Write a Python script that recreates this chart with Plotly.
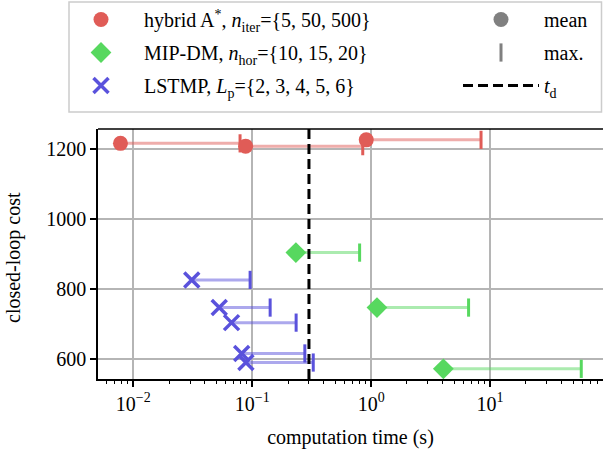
import plotly.graph_objects as go

# ---- data ----
hybrid_mean_t = [0.0078, 0.088, 0.91]
hybrid_max_t = [0.079, 0.85, 8.4]
hybrid_cost = [1216, 1208, 1226]

mip_mean_t = [0.233, 1.12, 4.05]
mip_max_t = [0.80, 6.6, 58.5]
mip_cost = [904, 747, 572]

lstmp_mean_t = [0.031, 0.0528, 0.067, 0.0815, 0.0885]
lstmp_max_t = [0.096, 0.1415, 0.234, 0.277, 0.326]
lstmp_cost = [826, 747, 704, 616, 590]

t_d = 0.3
y_range = [543, 1257]
x_range_log = [-2.297, 1.95]

x_tickvals = [0.01, 0.1, 1, 10]
x_ticktext = ["10<sup>−2</sup>", "10<sup>−1</sup>", "10<sup>0</sup>", "10<sup>1</sup>"]
y_tickvals = [600, 800, 1000, 1200]

FONT = "Liberation Serif"
RED, RED_L = "#e05c57", "rgba(224,92,87,0.5)"
GREEN, GREEN_L = "#57d85f", "rgba(87,216,95,0.5)"
BLUE, BLUE_L = "#5a52dc", "rgba(90,82,220,0.5)"
GREY = "#808080"

series = [
    ("hybrid A<sup>*</sup>, <i>n</i><sub>iter</sub>={5, 50, 500}", hybrid_mean_t, hybrid_max_t, hybrid_cost,
     RED, RED_L, dict(symbol="circle", size=15)),
    ("MIP-DM, <i>n</i><sub>hor</sub>={10, 15, 20}", mip_mean_t, mip_max_t, mip_cost,
     GREEN, GREEN_L, dict(symbol="diamond", size=16)),
    ("LSTMP, <i>L</i><sub>p</sub>={2, 3, 4, 5, 6}", lstmp_mean_t, lstmp_max_t, lstmp_cost,
     BLUE, BLUE_L, dict(symbol="x-thin", size=15, line=dict(width=3.5))),
]

fig = go.Figure()

# mean-to-max lines
for name, mt, xt, c, col, coll, mk in series:
    for a, b, cc in zip(mt, xt, c):
        fig.add_trace(go.Scatter(x=[a, b], y=[cc, cc], mode="lines",
                                 line=dict(color=coll, width=3), showlegend=False, hoverinfo="skip"))

# deadline line
fig.add_trace(go.Scatter(x=[t_d, t_d], y=y_range, mode="lines", name="<i>t</i><sub>d</sub>",
                         line=dict(color="black", width=3, dash="10px,5px"),
                         legend="legend2", legendgroup="g6", legendrank=6))

# max caps
for name, mt, xt, c, col, coll, mk in series:
    fig.add_trace(go.Scatter(x=xt, y=c, mode="markers",
                             marker=dict(symbol="line-ns", size=13, line=dict(color=col, width=3)),
                             showlegend=False, hoverinfo="skip"))

# means
for i, (name, mt, xt, c, col, coll, mk) in enumerate(series):
    m = dict(mk)
    m["color"] = col
    if mk["symbol"] == "x-thin":
        m["line"] = dict(color=col, width=3.5)
    fig.add_trace(go.Scatter(x=mt, y=c, mode="markers", name=name, marker=m,
                             legend="legend", legendgroup="g%d" % i, legendrank=i + 1))

# legend-only entries
fig.add_trace(go.Scatter(x=[None], y=[None], mode="markers", name="mean",
                         marker=dict(symbol="circle", size=15, color=GREY),
                         legend="legend2", legendgroup="g4", legendrank=4))
fig.add_trace(go.Scatter(x=[None], y=[None], mode="markers", name="max.",
                         marker=dict(symbol="line-ns", size=13, line=dict(color=GREY, width=3)),
                         legend="legend2", legendgroup="g5", legendrank=5))

axis_common = dict(showline=True, linecolor="black", linewidth=1.5, ticks="outside",
                   tickcolor="black", tickwidth=1.5, ticklen=6, showgrid=True,
                   gridcolor="#b5b5b5", gridwidth=1.5, zeroline=False,
                   tickfont=dict(family=FONT, size=20, color="black"))

W, H = 603, 451
fig.update_layout(
    width=W, height=H,
    margin=dict(l=98, r=0, t=129, b=72, autoexpand=False),
    paper_bgcolor="white", plot_bgcolor="white",
    font=dict(family=FONT, size=20, color="black"),
    xaxis=dict(type="log", range=x_range_log, tickvals=x_tickvals, ticktext=x_ticktext,
               minor=dict(ticks="outside", ticklen=3.5, tickwidth=1, tickcolor="black",
                          dtick="D1", showgrid=False),
               title=dict(text="computation time (s)", font=dict(family=FONT, size=20), standoff=16),
               **axis_common),
    yaxis=dict(range=y_range, tickvals=y_tickvals, **axis_common),
    legend=dict(xref="container", yref="container", x=58 / W, y=1 + 2 / H,
                xanchor="left", yanchor="top", bgcolor="rgba(0,0,0,0)", borderwidth=0,
                font=dict(family=FONT, size=20), tracegroupgap=4, itemwidth=76),
    legend2=dict(xref="container", yref="container", x=458 / W, y=1 + 2 / H,
                 xanchor="left", yanchor="top", bgcolor="rgba(0,0,0,0)", borderwidth=0,
                 font=dict(family=FONT, size=20), tracegroupgap=4, itemwidth=76),
    annotations=[
        dict(text="closed-loop cost", xref="paper", yref="paper", x=-85 / 505, y=121 / 250,
             textangle=-90, showarrow=False, xanchor="center", yanchor="middle",
             font=dict(family=FONT, size=20, color="black")),
    ],
    shapes=[
        dict(type="rect", xref="paper", yref="paper", x0=-29 / 505, x1=1.0 - 1.5 / 505,
             y0=1 + 17 / 250, y1=1 + 127 / 250,
             line=dict(color="#cccccc", width=1.5), fillcolor="rgba(0,0,0,0)", layer="above"),
        dict(type="line", xref="paper", yref="paper", x0=0, x1=1, y0=1, y1=1,
             line=dict(color="black", width=1.5)),
    ],
)

fig.write_html("out.html", config={"displayModeBar": False},
               post_script="document.body.style.margin='0';")
